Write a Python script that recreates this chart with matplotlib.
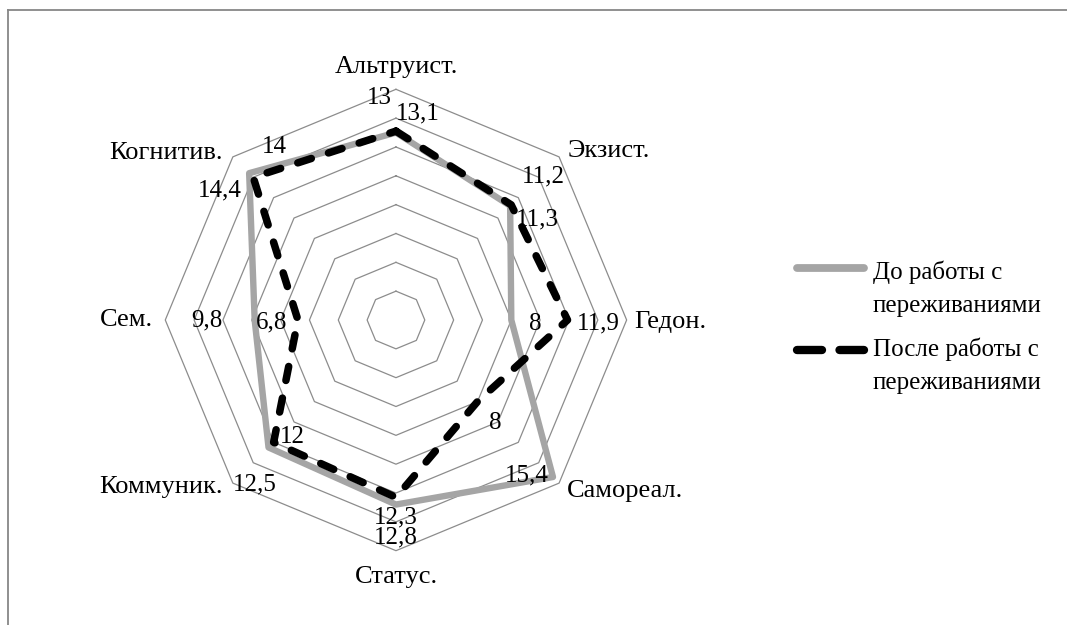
import numpy as np
import matplotlib.pyplot as plt
from matplotlib.lines import Line2D

# data
categories = ['Альтруист.', 'Экзист.', 'Гедон.', 'Самореал.',
              'Статус.', 'Коммуник.', 'Сем.', 'Когнитив.']
before = [13, 11.2, 8, 15.4, 12.8, 12.5, 9.8, 14.4]
after = [13.1, 11.3, 11.9, 8, 12.3, 12, 6.8, 14]
ring_levels = [2, 4, 6, 8, 10, 12, 14, 16]
series_names = ['До работы с\nпереживаниями', 'После работы с\nпереживаниями']

# label placement (pixel offsets from the point)
off_before = [(-17, 35), (33, 29), (24, -4), (-26, 2),
              (0, -33), (-14, -37), (-48, 0), (-29, -17)]
off_after = [(22, 18), (26, -15), (31, -3), (18, -21),
             (0, -20), (19, 5), (-26, -2), (21, 30)]
cat_off = [((0, 22), 'center'), ((8, 6), 'left'), ((8, -2), 'left'),
           ((8, -8), 'left'), ((0, -26), 'center'), ((-10, -4), 'right'),
           ((-12, 0), 'right'), ((-10, 4), 'right')]

FONT = 'Liberation Serif'
FS_CAT = 19
FS = 18
GRID = '#8c8c8c'
W, H = 1067, 625


def fmt(v):
    return ('%g' % v).replace('.', ',')


fig = plt.figure(figsize=(W / 100, H / 100), dpi=100)
ax = fig.add_axes([0.1549, 0.1189, 0.4324, 0.7382], projection='polar')
ax.set_theta_zero_location('N')
ax.set_theta_direction(-1)
ax.set_ylim(0, max(ring_levels))
ax.axis('off')

n = len(categories)
angles = np.linspace(0, 2 * np.pi, n, endpoint=False)
closed = np.append(angles, angles[0])

for lv in ring_levels:
    ax.plot(closed, [lv] * (n + 1), color=GRID, lw=0.9, clip_on=False, zorder=1)

ax.plot(closed, before + before[:1], color='#A5A5A5', lw=4.6,
        solid_joinstyle='round', clip_on=False, zorder=2)
ax.plot(closed, after + after[:1], color='black', lw=5.4,
        linestyle=(0, (1.9, 2.4)), dash_capstyle='round', clip_on=False, zorder=3)

for a, v, o in zip(angles, before, off_before):
    ax.annotate(fmt(v), xy=(a, v), xytext=o, textcoords='offset pixels',
                ha='center', va='center', family=FONT, fontsize=FS, zorder=4)
for a, v, o in zip(angles, after, off_after):
    ax.annotate(fmt(v), xy=(a, v), xytext=o, textcoords='offset pixels',
                ha='center', va='center', family=FONT, fontsize=FS, zorder=4)

for a, cat, (o, ha) in zip(angles, categories, cat_off):
    ax.annotate(cat, xy=(a, max(ring_levels)), xytext=o, textcoords='offset pixels',
                ha=ha, va='center', family=FONT, fontsize=FS_CAT)

# legend drawn by hand so the sample sits beside the first text line
fig.add_artist(Line2D([797 / W, 864 / W], [1 - 268 / H] * 2, color='#A5A5A5',
                      lw=5.6, solid_capstyle='round'))
fig.add_artist(Line2D([797 / W, 864 / W], [1 - 350 / H] * 2, color='black',
                      lw=6, linestyle=(0, (3.0, 2.1)), dash_capstyle='round'))
fig.text(873 / W, 1 - 288.5 / H, series_names[0], ha='left', va='center',
         family=FONT, fontsize=FS, linespacing=1.62)
fig.text(873 / W, 1 - 366 / H, series_names[1], ha='left', va='center',
         family=FONT, fontsize=FS, linespacing=1.62)

# chart area border (only top and left edges are in frame)
fig.add_artist(Line2D([7.5 / W, 7.5 / W], [0, 1 - 10 / H], color='#878787', lw=1.3))
fig.add_artist(Line2D([7.5 / W, 1], [1 - 10 / H] * 2, color='#878787', lw=1.3))

fig.savefig('out.png', dpi=100)
